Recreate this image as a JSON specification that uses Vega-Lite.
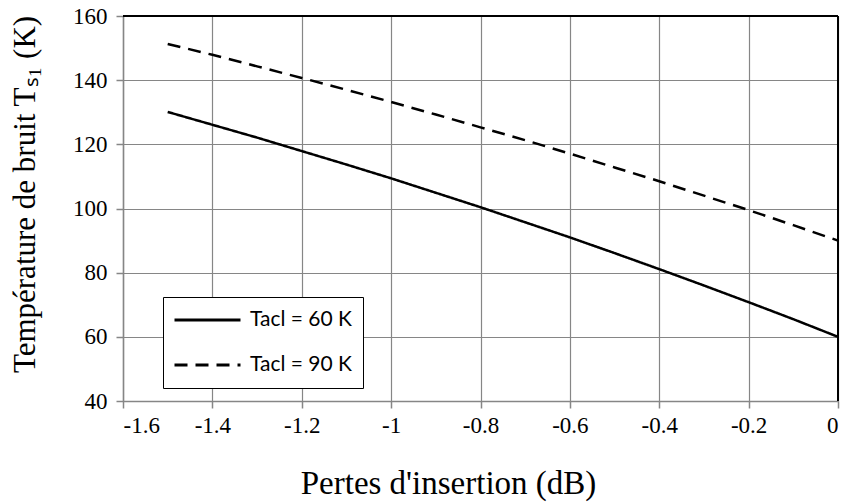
{
  "$schema": "https://vega.github.io/schema/vega-lite/v6.json",
  "width": 715,
  "height": 385,
  "autosize": "none",
  "padding": {"left": 123, "top": 16, "right": 9, "bottom": 103},
  "background": "white",
  "config": {
    "view": {"stroke": null},
    "axis": {
      "labelFont": "Liberation Serif",
      "labelFontSize": 23,
      "labelColor": "black",
      "titleFont": "Liberation Serif",
      "titleFontSize": 33,
      "titleFontWeight": "normal",
      "titleColor": "black",
      "domainColor": "#868686",
      "domainWidth": 1.5,
      "gridColor": "#868686",
      "gridWidth": 1.2,
      "tickColor": "#868686",
      "tickWidth": 1.5,
      "tickSize": 7
    }
  },
  "data": {
    "values": [
      {"x": -1.5, "T": 130.1, "serie": "Tacl = 60 K"},
      {"x": -1.4, "T": 126.1, "serie": "Tacl = 60 K"},
      {"x": -1.3, "T": 122.1, "serie": "Tacl = 60 K"},
      {"x": -1.2, "T": 117.9, "serie": "Tacl = 60 K"},
      {"x": -1.1, "T": 113.7, "serie": "Tacl = 60 K"},
      {"x": -1.0, "T": 109.4, "serie": "Tacl = 60 K"},
      {"x": -0.9, "T": 104.9, "serie": "Tacl = 60 K"},
      {"x": -0.8, "T": 100.4, "serie": "Tacl = 60 K"},
      {"x": -0.7, "T": 95.7, "serie": "Tacl = 60 K"},
      {"x": -0.6, "T": 91.0, "serie": "Tacl = 60 K"},
      {"x": -0.5, "T": 86.1, "serie": "Tacl = 60 K"},
      {"x": -0.4, "T": 81.1, "serie": "Tacl = 60 K"},
      {"x": -0.3, "T": 76.0, "serie": "Tacl = 60 K"},
      {"x": -0.2, "T": 70.8, "serie": "Tacl = 60 K"},
      {"x": -0.1, "T": 65.5, "serie": "Tacl = 60 K"},
      {"x": 0.0, "T": 60.0, "serie": "Tacl = 60 K"},
      {"x": -1.5, "T": 151.3, "serie": "Tacl = 90 K"},
      {"x": -1.4, "T": 147.9, "serie": "Tacl = 90 K"},
      {"x": -1.3, "T": 144.3, "serie": "Tacl = 90 K"},
      {"x": -1.2, "T": 140.7, "serie": "Tacl = 90 K"},
      {"x": -1.1, "T": 137.0, "serie": "Tacl = 90 K"},
      {"x": -1.0, "T": 133.2, "serie": "Tacl = 90 K"},
      {"x": -0.9, "T": 129.3, "serie": "Tacl = 90 K"},
      {"x": -0.8, "T": 125.3, "serie": "Tacl = 90 K"},
      {"x": -0.7, "T": 121.3, "serie": "Tacl = 90 K"},
      {"x": -0.6, "T": 117.1, "serie": "Tacl = 90 K"},
      {"x": -0.5, "T": 112.8, "serie": "Tacl = 90 K"},
      {"x": -0.4, "T": 108.5, "serie": "Tacl = 90 K"},
      {"x": -0.3, "T": 104.0, "serie": "Tacl = 90 K"},
      {"x": -0.2, "T": 99.5, "serie": "Tacl = 90 K"},
      {"x": -0.1, "T": 94.8, "serie": "Tacl = 90 K"},
      {"x": 0.0, "T": 90.0, "serie": "Tacl = 90 K"}
    ]
  },
  "layer": [
    {
      "mark": {"type": "line", "strokeWidth": 2.5, "color": "black", "clip": false},
      "encoding": {
        "x": {
          "field": "x", "type": "quantitative",
          "scale": {"domain": [-1.6, 0], "nice": false, "zero": false},
          "axis": {
            "values": [-1.6, -1.4, -1.2, -1, -0.8, -0.6, -0.4, -0.2, 0],
            "format": "~g",
            "labelExpr": "replace(datum.label, '−', '-')",
            "labelFont": "Liberation Serif",
            "labelFontSize": 23,
            "title": "Pertes d'insertion (dB)",
            "titleX": 325,
            "titlePadding": 30,
            "labelPadding": 6
          }
        },
        "y": {
          "field": "T", "type": "quantitative",
          "scale": {"domain": [40, 160], "nice": false, "zero": false},
          "axis": {
            "values": [40, 60, 80, 100, 120, 140, 160],
            "labelFont": "Liberation Serif",
            "labelFontSize": 23,
            "title": "Température de bruit Tₛ₁ (K)",
            "titleFontSize": 31,
            "titleY": 178,
            "titlePadding": 31,
            "labelPadding": 9
          }
        },
        "strokeDash": {
          "field": "serie", "type": "nominal",
          "scale": {"domain": ["Tacl = 60 K", "Tacl = 90 K"], "range": [[1, 0], [13, 8]]},
          "legend": {
            "title": null,
            "orient": "none",
            "legendX": 40,
            "legendY": 281,
            "direction": "vertical",
            "strokeColor": "black",
            "fillColor": "white",
            "padding": 10,
            "symbolType": "stroke",
            "symbolSize": 4356,
            "symbolStrokeWidth": 3,
            "symbolStrokeColor": "black",
            "labelFont": "Lato",
            "labelFontSize": 21,
            "labelColor": "black",
            "labelOffset": 8,
            "clipHeight": 26,
            "rowPadding": 19,
            "symbolOffset": 0
          }
        }
      }
    },
    {
      "mark": {"type": "rule", "color": "black", "strokeWidth": 2},
      "encoding": {"y": {"datum": 160}}
    },
    {
      "mark": {"type": "rule", "color": "black", "strokeWidth": 2},
      "encoding": {"x": {"datum": 0}}
    }
  ]
}
